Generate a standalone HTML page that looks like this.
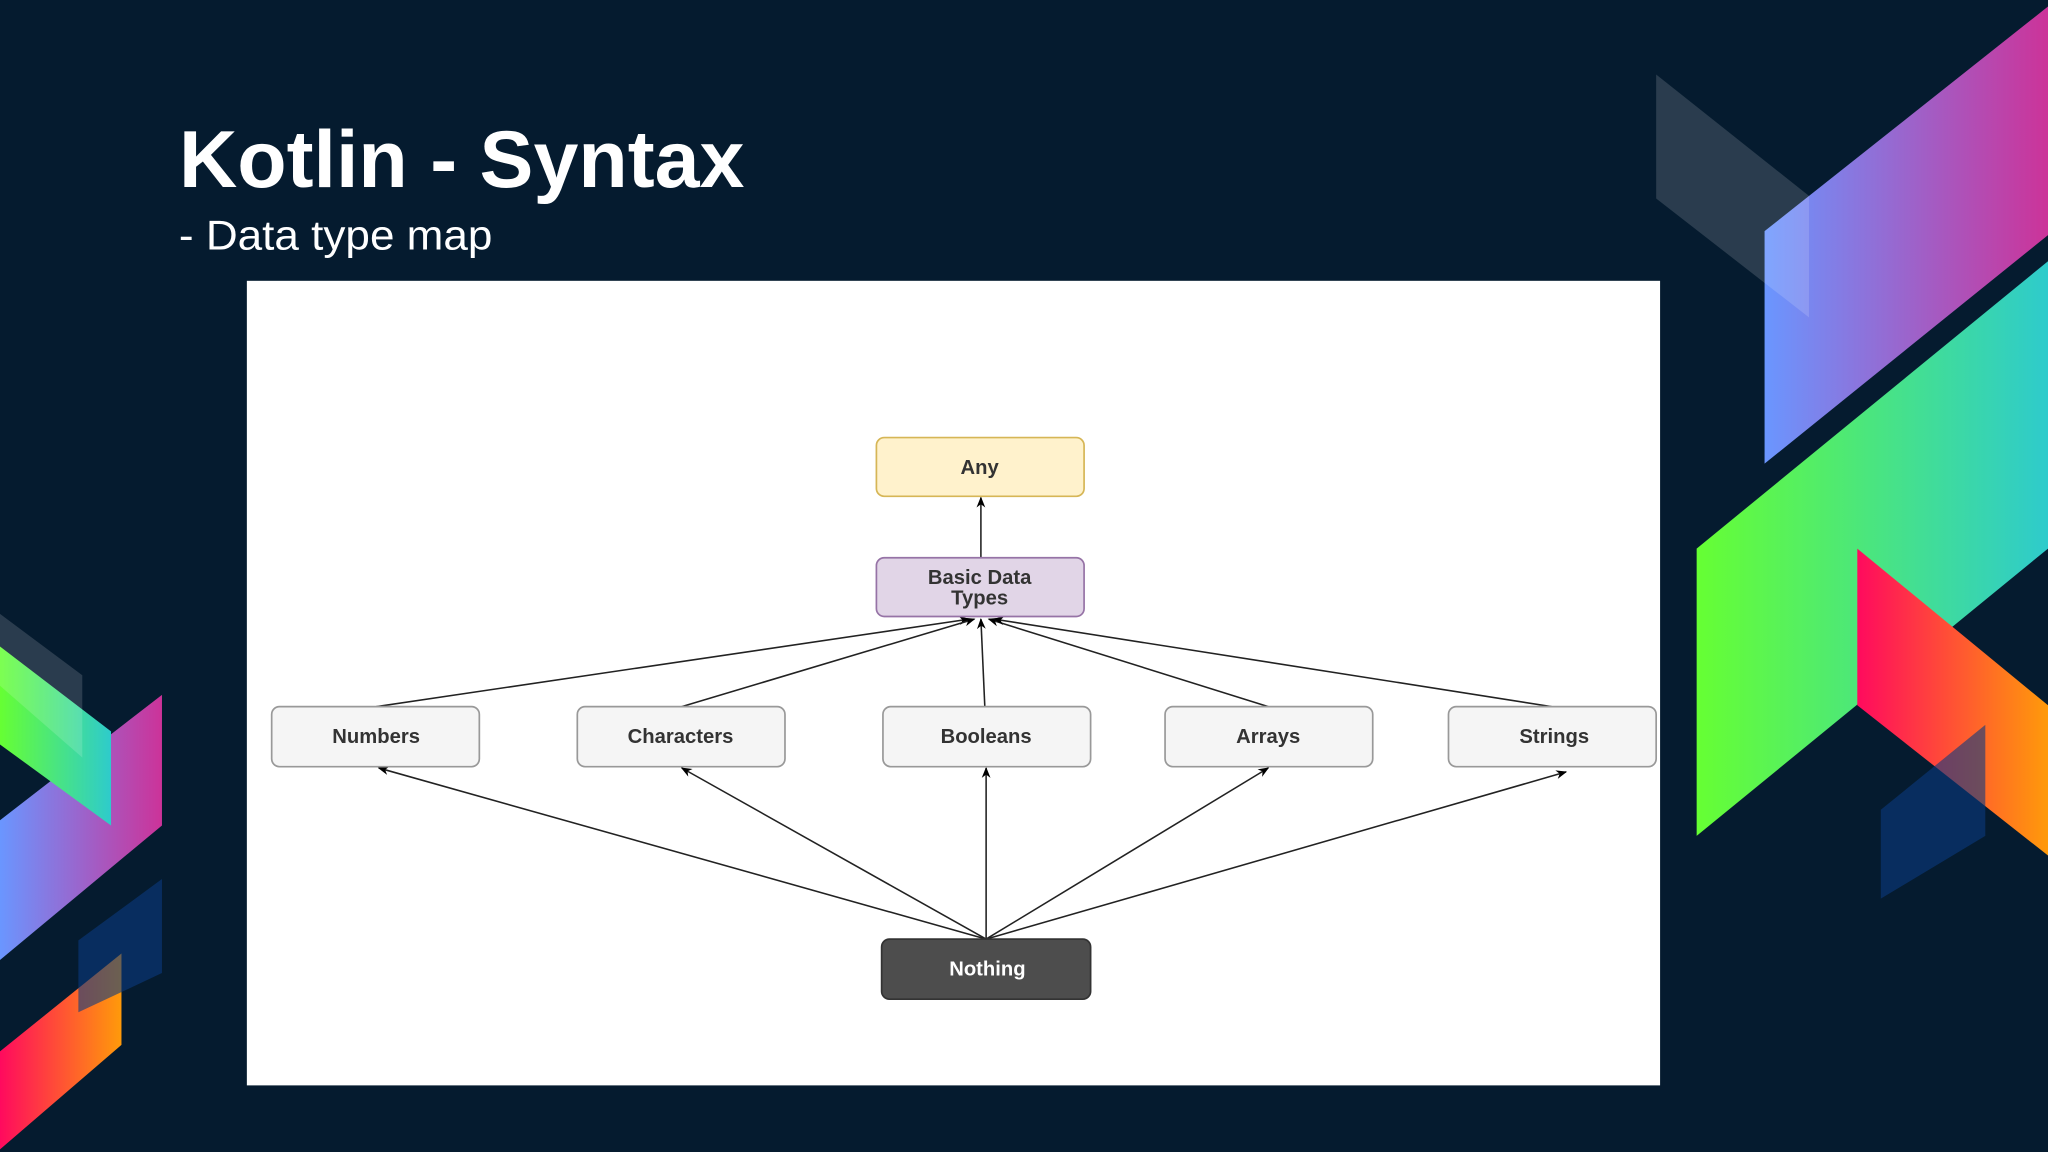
<!DOCTYPE html>
<html><head><meta charset="utf-8"><style>
html,body{margin:0;padding:0;background:#051b2f;}
svg{display:block}
</style></head><body>
<svg width="2048" height="1152" viewBox="0 0 1568 882" xmlns="http://www.w3.org/2000/svg">
<defs>
<linearGradient id="gp" x1="0" x2="1" y1="0" y2="0"><stop offset="0" stop-color="#6a96ff"/><stop offset="1" stop-color="#cc3399"/></linearGradient>
<linearGradient id="gg" x1="0" x2="1" y1="0" y2="0"><stop offset="0" stop-color="#66ff33"/><stop offset="1" stop-color="#2ecbcc"/></linearGradient>
<linearGradient id="gr" x1="0" x2="1" y1="0" y2="0"><stop offset="0" stop-color="#ff0a5e"/><stop offset="1" stop-color="#ff9a0a"/></linearGradient>
<marker id="ar" viewBox="0 0 10 10" refX="9" refY="5" markerWidth="7" markerHeight="7" orient="auto-start-reverse"><path d="M0,1 L10,5 L0,9 L3,5 Z" fill="#000"/></marker>
</defs>
<rect width="1568" height="882" fill="#051b2f"/>
<polygon points="1351,177 1568,5 1568,180 1351,355" fill="url(#gp)"/>
<polygon points="1268,57 1385,150 1385,243 1268,152" fill="#ffffff" opacity="0.15"/>
<polygon points="1299,420 1568,200 1568,420 1299,640" fill="url(#gg)"/>
<polygon points="1422,420 1568,540 1568,655 1422,540" fill="url(#gr)"/>
<polygon points="1440,620 1520,555 1520,640 1440,688" fill="#0a3a80" opacity="0.6"/>
<polygon points="0,628 124,532 124,632 0,735" fill="url(#gp)"/>
<polygon points="0,495 85,560 85,632 0,570" fill="url(#gg)"/>
<polygon points="0,470 63,517 63,580 0,525" fill="#ffffff" opacity="0.15"/>
<polygon points="0,805 93,730 93,800 0,880" fill="url(#gr)"/>
<polygon points="60,720 124,673 124,745 60,775" fill="#0a3a80" opacity="0.6"/>
<text x="137" y="143" font-family="Liberation Sans, sans-serif" font-weight="bold" font-size="62" fill="#fff" textLength="433" lengthAdjust="spacingAndGlyphs">Kotlin - Syntax</text>
<text x="137" y="191" font-family="Liberation Sans, sans-serif" font-size="32" fill="#fff" textLength="240" lengthAdjust="spacingAndGlyphs">- Data type map</text>
<rect x="189" y="215" width="1082" height="616" fill="#fff"/>
<g stroke="#222" stroke-width="1.2" fill="none" marker-end="url(#ar)">
<line x1="751" y1="427" x2="751" y2="381"/>
<line x1="288" y1="541" x2="742" y2="474"/>
<line x1="522" y1="541" x2="746" y2="474"/>
<line x1="754" y1="541" x2="751" y2="474"/>
<line x1="971" y1="541" x2="757" y2="474"/>
<line x1="1188" y1="541" x2="761" y2="474"/>
<line x1="755" y1="719" x2="290" y2="588"/>
<line x1="755" y1="719" x2="522" y2="588"/>
<line x1="755" y1="719" x2="755" y2="588"/>
<line x1="755" y1="719" x2="971" y2="588"/>
<line x1="755" y1="719" x2="1199" y2="591"/>
</g>
<g font-family="Liberation Sans, sans-serif" font-size="15.5" font-weight="bold" text-anchor="middle" fill="#333">
<rect x="671" y="335" width="159" height="45" rx="6" fill="#fff2cc" stroke="#d6b656" stroke-width="1.3"/>
<text x="750" y="363">Any</text>
<rect x="671" y="427" width="159" height="45" rx="6" fill="#e1d5e7" stroke="#9673a6" stroke-width="1.3"/>
<text x="750" y="447">Basic Data</text>
<text x="750" y="463">Types</text>
<rect x="208" y="541" width="159" height="46" rx="6" fill="#f5f5f5" stroke="#999" stroke-width="1.3"/>
<text x="288" y="569">Numbers</text>
<rect x="442" y="541" width="159" height="46" rx="6" fill="#f5f5f5" stroke="#999" stroke-width="1.3"/>
<text x="521" y="569">Characters</text>
<rect x="676" y="541" width="159" height="46" rx="6" fill="#f5f5f5" stroke="#999" stroke-width="1.3"/>
<text x="755" y="569">Booleans</text>
<rect x="892" y="541" width="159" height="46" rx="6" fill="#f5f5f5" stroke="#999" stroke-width="1.3"/>
<text x="971" y="569">Arrays</text>
<rect x="1109" y="541" width="159" height="46" rx="6" fill="#f5f5f5" stroke="#999" stroke-width="1.3"/>
<text x="1190" y="569">Strings</text>
<rect x="675" y="719" width="160" height="46" rx="6" fill="#4d4d4d" stroke="#333" stroke-width="1.3"/>
<text x="756" y="747" fill="#fff">Nothing</text>
</g>
</svg>
</body></html>
